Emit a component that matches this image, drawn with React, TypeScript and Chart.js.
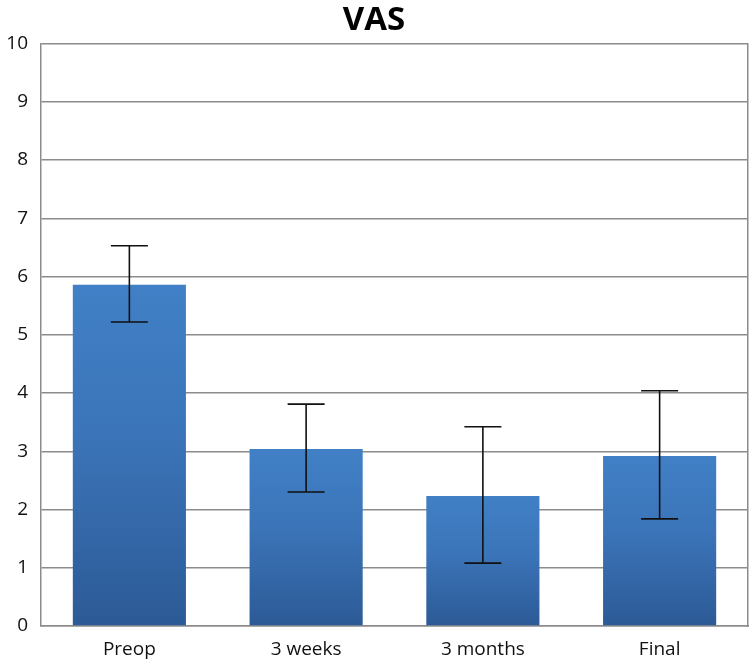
import { useEffect, useRef } from 'react';
import Chart from 'chart.js/auto';

const labels = ['Preop', '3 weeks', '3 months', 'Final'];
const means = [5.86, 3.04, 2.23, 2.92];
const upper = [6.53, 3.81, 3.42, 4.04];
const lower = [5.22, 2.3, 1.08, 1.84];
const yTicks = [0, 1, 2, 3, 4, 5, 6, 7, 8, 9, 10];

const FONT = '"Open Sans", "Liberation Sans", sans-serif';
const GRID = '#8c8c8c';

// draws the whiskers on top of the bars
const errorBars = {
  id: 'errorBars',
  afterDatasetsDraw(chart: Chart) {
    const { ctx } = chart;
    const meta = chart.getDatasetMeta(0);
    const y = chart.scales.y;
    ctx.save();
    ctx.strokeStyle = '#111';
    ctx.lineWidth = 1.6;
    meta.data.forEach((bar: any, i: number) => {
      const x = bar.x;
      const top = y.getPixelForValue(upper[i]);
      const bot = y.getPixelForValue(lower[i]);
      const cap = 18.5;
      ctx.beginPath();
      ctx.moveTo(x, top);
      ctx.lineTo(x, bot);
      ctx.moveTo(x - cap, top);
      ctx.lineTo(x + cap, top);
      ctx.moveTo(x - cap, bot);
      ctx.lineTo(x + cap, bot);
      ctx.stroke();
    });
    ctx.restore();
  },
};

export default function App() {
  const chartRef = useRef<HTMLCanvasElement>(null);
  const chartInstance = useRef<Chart | null>(null);

  useEffect(() => {
    document.body.style.margin = '0';
    if (!chartRef.current) return;
    if (chartInstance.current) chartInstance.current.destroy();
    const ctx = chartRef.current.getContext('2d');
    if (!ctx) return;

    chartInstance.current = new Chart(ctx, {
      type: 'bar',
      data: {
        labels,
        datasets: [
          {
            label: 'VAS',
            data: means,
            backgroundColor: (c: any) => {
              const area = c.chart.chartArea;
              const y = c.chart.scales.y;
              if (!area || !y || c.parsed == null) return '#3a72b8';
              // gradient runs from the top of each bar down to the axis
              const top = y.getPixelForValue(c.parsed.y);
              const g = c.chart.ctx.createLinearGradient(0, top, 0, area.bottom);
              g.addColorStop(0, '#4180c6');
              g.addColorStop(0.45, '#3b74b8');
              g.addColorStop(1, '#2c5a96');
              return g;
            },
            borderWidth: 0,
            categoryPercentage: 1,
            barPercentage: 0.64,
          },
        ],
      },
      options: {
        animation: false,
        responsive: false,
        layout: { padding: { right: 2, top: 0, bottom: 0 } },
        plugins: {
          legend: { display: false },
          tooltip: { enabled: false },
          title: {
            display: true,
            text: 'VAS',
            color: '#000',
            font: { family: FONT, size: 33, weight: 'bold', lineHeight: 1.2 },
            padding: { top: 1, bottom: 3 },
          },
        },
        scales: {
          x: {
            grid: { display: false },
            border: { color: GRID, width: 1.5 },
            ticks: {
              color: '#111',
              font: { family: FONT, size: 19 },
              padding: 4,
            },
            afterFit: (s: any) => {
              s.height = 37;
            },
          },
          y: {
            min: 0,
            max: 10,
            afterBuildTicks: (s: any) => {
              s.ticks = yTicks.map((v) => ({ value: v }));
            },
            grid: { color: GRID, lineWidth: 1.5, drawTicks: false },
            border: { color: GRID, width: 1.5 },
            ticks: {
              color: '#111',
              font: { family: FONT, size: 19 },
              padding: 13,
            },
            afterFit: (s: any) => {
              s.width = 41;
            },
          },
          y2: {
            position: 'right',
            min: 0,
            max: 10,
            grid: { drawOnChartArea: false, drawTicks: false },
            border: { color: GRID, width: 1.5 },
            ticks: { display: false },
            afterFit: (s: any) => {
              s.width = 0;
            },
          },
        },
      },
      plugins: [errorBars],
    });

    return () => {
      if (chartInstance.current) {
        chartInstance.current.destroy();
        chartInstance.current = null;
      }
    };
  }, []);

  return (
    <div style={{ width: 750, height: 663 }}>
      <canvas ref={chartRef} width={750} height={663} />
    </div>
  );
}
